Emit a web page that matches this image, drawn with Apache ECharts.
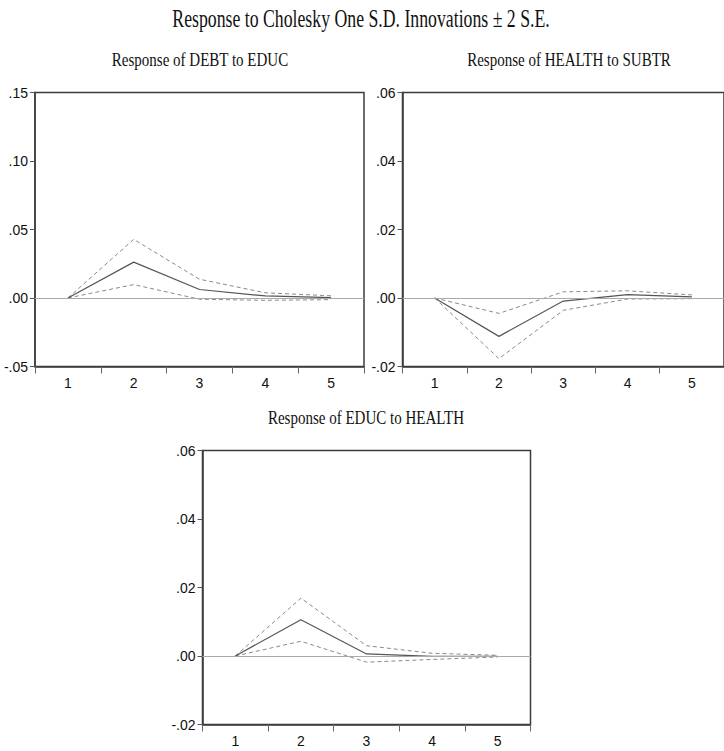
<!DOCTYPE html>
<html>
<head>
<meta charset="utf-8">
<script src="https://cdn.jsdelivr.net/npm/echarts@6/dist/echarts.min.js"></script>
<style>
html,body{margin:0;padding:0;background:#fff;}
#chart{width:724px;height:751px;}
</style>
</head>
<body>
<div id="chart"></div>
<script>
const mainTitle = 'Response to Cholesky One S.D. Innovations \u00B1 2 S.E.';
const panelTitles = ['Response of DEBT to EDUC', 'Response of HEALTH to SUBTR', 'Response of EDUC to HEALTH'];
const periods = ['1', '2', '3', '4', '5'];

const debtEduc      = [0, 0.0262, 0.0062, 0.0015, 0.0003];
const debtEducUpper = [0, 0.0428, 0.0137, 0.0038, 0.0016];
const debtEducLower = [0, 0.0098, -0.0009, -0.0017, -0.0012];

const healthSubtr      = [0, -0.0112, -0.0009, 0.0010, 0.0003];
const healthSubtrUpper = [0, -0.0045, 0.0018, 0.0021, 0.0009];
const healthSubtrLower = [0, -0.0177, -0.0036, -0.0003, -0.0002];

const educHealth      = [0, 0.0106, 0.0006, -0.0001, -0.0001];
const educHealthUpper = [0, 0.0169, 0.0030, 0.0008, 0.0002];
const educHealthLower = [0, 0.0043, -0.0018, -0.0010, -0.0003];

const yRanges = [
  {min: -0.05, max: 0.15, interval: 0.05},
  {min: -0.02, max: 0.06, interval: 0.02},
  {min: -0.02, max: 0.06, interval: 0.02}
];

const panelData = [
  [debtEduc, debtEducUpper, debtEducLower],
  [healthSubtr, healthSubtrUpper, healthSubtrLower],
  [educHealth, educHealthUpper, educHealthLower]
];

const grids = [
  {left: 35, top: 92.5, width: 329, height: 274},
  {left: 402.5, top: 92.5, width: 329, height: 274},
  {left: 202.5, top: 450.5, width: 328, height: 274}
];

const axisColor = '#3c3c3c';
const sansFont = '"Liberation Sans Narrow", "Liberation Sans", Arial, sans-serif';
const serifFont = '"Liberation Serif", "Times New Roman", serif';

function fmt(v) {
  const s = Math.abs(v).toFixed(2).replace(/^0/, '');
  return (v < -1e-9 ? '-' : '') + s;
}

const xAxes = grids.map((g, i) => ({
  type: 'category', gridIndex: i, data: periods, boundaryGap: true,
  axisLine: {show: true, onZero: false, lineStyle: {color: axisColor, width: 1.5}},
  axisTick: {show: true, inside: false, length: 7, alignWithLabel: false, lineStyle: {color: '#666', width: 1}},
  axisLabel: {show: true, margin: 9, color: '#111', fontSize: 14, fontFamily: sansFont},
  splitLine: {show: false}
}));

const yAxes = grids.map((g, i) => ({
  type: 'value', gridIndex: i, min: yRanges[i].min, max: yRanges[i].max, interval: yRanges[i].interval,
  axisLine: {show: true, onZero: false, lineStyle: {color: axisColor, width: 1.5}},
  axisTick: {show: true, inside: false, length: 5, lineStyle: {color: '#555', width: 1}},
  axisLabel: {show: true, margin: 7, color: '#111', fontSize: 14, fontFamily: sansFont, formatter: fmt},
  splitLine: {show: false}
}));

const series = [];
panelData.forEach((arrs, i) => {
  const [mid, up, lo] = arrs;
  series.push({
    type: 'line', xAxisIndex: i, yAxisIndex: i, data: mid, symbol: 'none', z: 4,
    lineStyle: {color: '#555', width: 1.2, type: 'solid'},
    markLine: {
      silent: true, symbol: 'none', label: {show: false},
      lineStyle: {color: '#aaa', width: 1, type: 'solid'},
      data: [{yAxis: 0}], animation: false
    }
  });
  series.push({
    type: 'line', xAxisIndex: i, yAxisIndex: i, data: up, symbol: 'none', z: 3,
    lineStyle: {color: '#8a8a8a', width: 1, type: [4, 3]}
  });
  series.push({
    type: 'line', xAxisIndex: i, yAxisIndex: i, data: lo, symbol: 'none', z: 3,
    lineStyle: {color: '#8a8a8a', width: 1, type: [4, 3]}
  });
});

const titleSpecs = [
  {text: mainTitle, x: 361, y: 19, size: 25, sx: 0.71},
  {text: panelTitles[0], x: 200, y: 60, size: 19, sx: 0.79},
  {text: panelTitles[1], x: 569, y: 60, size: 19, sx: 0.79},
  {text: panelTitles[2], x: 366, y: 418, size: 19, sx: 0.79}
];

const graphic = titleSpecs.map(t => ({
  type: 'text', x: t.x, y: t.y, scaleX: t.sx, scaleY: 1, silent: true,
  style: {
    text: t.text, x: 0, y: 0, textAlign: 'center', textVerticalAlign: 'middle',
    fill: '#111', font: t.size + 'px ' + serifFont
  }
}));

const chart = echarts.init(document.getElementById('chart'), null, {renderer: 'svg'});
chart.setOption({
  animation: false,
  backgroundColor: '#fff',
  grid: grids.map(g => Object.assign({show: true, borderColor: axisColor, borderWidth: 1.5, backgroundColor: 'transparent', containLabel: false}, g)),
  xAxis: xAxes,
  yAxis: yAxes,
  series: series,
  graphic: graphic
});
</script>
</body>
</html>
